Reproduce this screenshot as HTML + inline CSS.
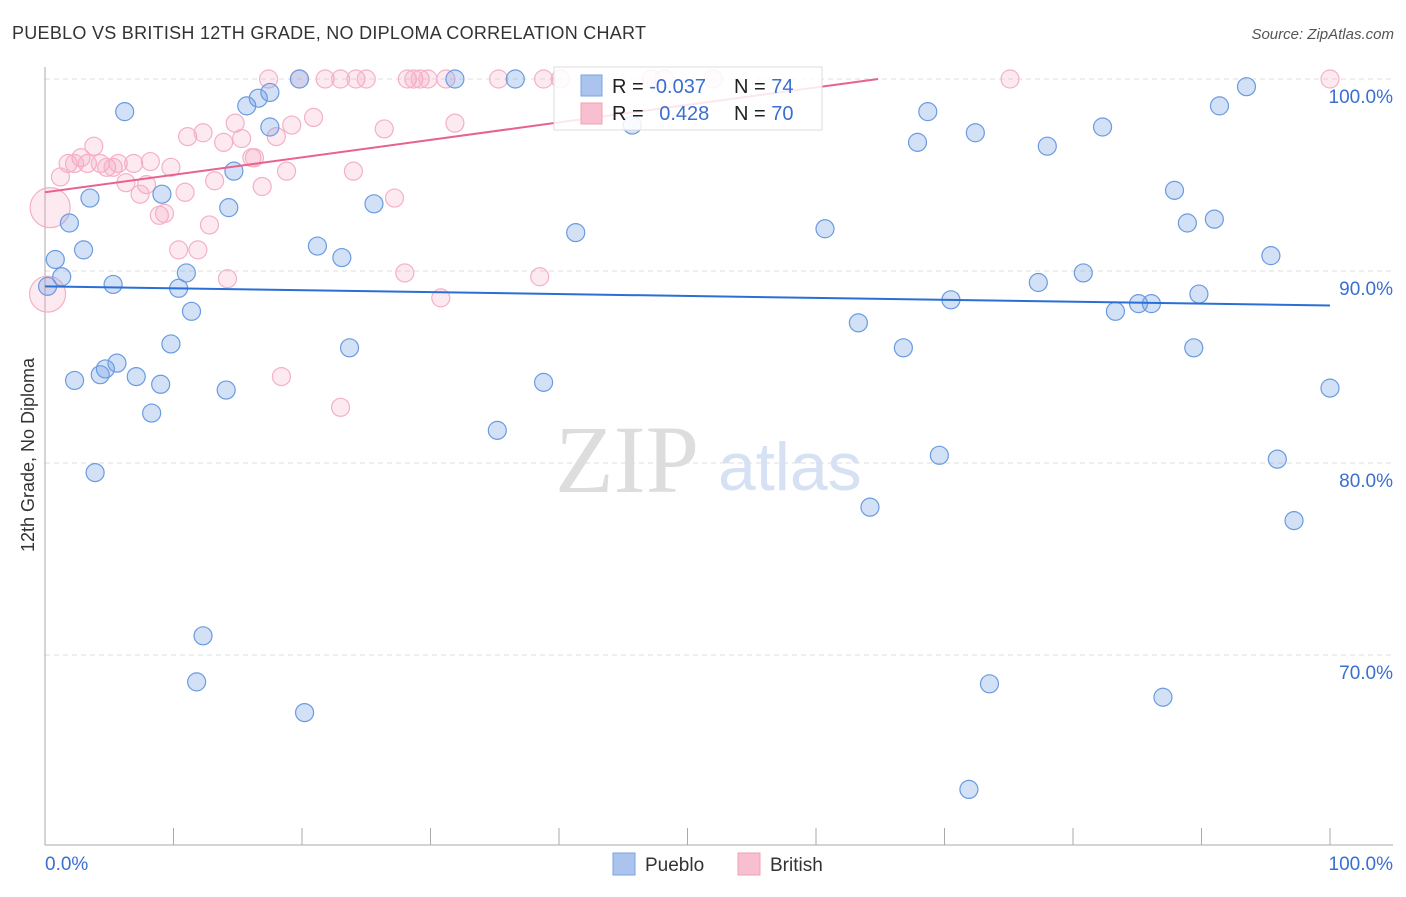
<!DOCTYPE html>
<html><head><meta charset="utf-8"><style>
body{margin:0;background:#fff;font-family:"Liberation Sans",sans-serif}
</style></head><body>
<svg id="c" width="1406" height="892" xmlns="http://www.w3.org/2000/svg">
<text x="12" y="39" font-size="18" fill="#333" textLength="634">PUEBLO VS BRITISH 12TH GRADE, NO DIPLOMA CORRELATION CHART</text>
<text x="1394" y="39" font-size="15" fill="#555" text-anchor="end" font-style="italic">Source: ZipAtlas.com</text>
<text x="0" y="0" transform="translate(34,455) rotate(-90)" font-size="18" fill="#333" text-anchor="middle">12th Grade, No Diploma</text>
<text x="555" y="492" font-size="96" fill="#ddd" font-family="Liberation Serif,serif">ZIP</text>
<text x="718" y="490" font-size="68" fill="#d6e2f4">atlas</text>
<g id="grid"></g><g id="axes"></g>
<defs><clipPath id="pc"><rect x="45" y="60" width="1350" height="785"/></clipPath></defs>
<g id="pts"></g><g id="lines" clip-path="url(#pc)"></g>
<g>
<rect x="554" y="67" width="268" height="63" fill="#fff" fill-opacity="0.85" stroke="#ddd"/>
<rect x="581" y="75" width="21" height="21" fill="#aac4ee" stroke="#7aa3e3"/>
<rect x="581" y="103" width="21" height="21" fill="#f8bfd0" stroke="#f0a0b8"/>
<text x="612" y="93" font-size="20" fill="#222">R = <tspan fill="#3a6fd0">-0.037</tspan></text>
<text x="734" y="93" font-size="20" fill="#222">N = <tspan fill="#3a6fd0">74</tspan></text>
<text x="612" y="120" font-size="20" fill="#222">R = <tspan fill="#3a6fd0" dx="10">0.428</tspan></text>
<text x="734" y="120" font-size="20" fill="#222">N = <tspan fill="#3a6fd0">70</tspan></text>
</g>
<g>
<rect x="613" y="853" width="22" height="22" fill="#aac4ee" stroke="#7aa3e3"/>
<text x="645" y="871" font-size="19" fill="#333">Pueblo</text>
<rect x="738" y="853" width="22" height="22" fill="#f8bfd0" stroke="#f0a0b8"/>
<text x="770" y="871" font-size="19" fill="#333">British</text>
</g>
</svg>
<script>
const yTicks=[100,90,80,70];
const yTickLabels=["100.0%","90.0%","80.0%","70.0%"];
const xTickLabels=["0.0%","100.0%"];
const puebloX=[6.2,19.8,31.9,36.6,15.7,16.6,17.5,17.5,14.7,14.3,3.5,1.9,9.1,3.0,0.8,1.3,11.0,10.4,5.3,0.2,11.4,9.8,2.3,4.3,4.7,5.6,7.1,9.0,14.1,8.3,3.9,21.2,23.1,25.6,23.7,35.2,38.8,41.3,45.7,60.7,67.9,68.7,72.4,78.0,82.3,87.9,88.9,91.0,91.4,93.5,95.4,77.3,80.8,70.5,83.3,85.1,86.1,89.8,89.4,63.3,66.8,100,69.6,95.9,64.2,97.2,12.3,11.8,20.2,73.5,87.0,71.9];
const puebloY=[98.3,100,100,100,98.6,99.0,99.3,97.5,95.2,93.3,93.8,92.5,94.0,91.1,90.6,89.7,89.9,89.1,89.3,89.2,87.9,86.2,84.3,84.6,84.9,85.2,84.5,84.1,83.8,82.6,79.5,91.3,90.7,93.5,86.0,81.7,84.2,92.0,97.6,92.2,96.7,98.3,97.2,96.5,97.5,94.2,92.5,92.7,98.6,99.6,90.8,89.4,89.9,88.5,87.9,88.3,88.3,88.8,86.0,87.3,86.0,83.9,80.4,80.2,77.7,77.0,71.0,68.6,67.0,68.5,67.8,63.0];
const britishX=[17.4,19.8,21.8,23.0,24.2,25.0,28.2,28.7,29.2,29.8,31.2,35.3,38.8,40.1,47.2,48.2,52.0,75.1,100,3.8,2.8,1.8,2.3,3.3,4.3,4.8,5.3,5.7,6.9,8.2,9.8,1.2,6.3,7.9,7.4,8.9,9.3,10.9,11.1,12.3,13.9,14.8,15.3,16.1,16.3,18.0,19.2,20.9,13.2,16.9,18.8,24.0,26.4,31.9,27.2,12.8,10.4,11.9,14.2,28.0,38.5,30.8,18.4,23.0,0.4,0.2];
const britishY=[100,100,100,100,100,100,100,100,100,100,100,100,100,100,100,100,100,100,100,96.5,95.9,95.6,95.6,95.6,95.6,95.4,95.4,95.6,95.6,95.7,95.4,94.9,94.6,94.5,94.0,92.9,93.0,94.1,97.0,97.2,96.7,97.7,96.9,95.9,95.9,97.0,97.6,98.0,94.7,94.4,95.2,95.2,97.4,97.7,93.8,92.4,91.1,91.1,89.6,89.9,89.7,88.6,84.5,82.9,93.3,88.8];
const britishBig=[64,65];
const puebloTrend=[89.2,88.2];
const britishTrend=[94.1,103.2];
const NS="http://www.w3.org/2000/svg";
const X=v=>45+v*12.85, Y=v=>79+(100-v)*19.2;
function mk(t,a,p){const e=document.createElementNS(NS,t);for(const k in a)e.setAttribute(k,a[k]);p.appendChild(e);return e;}
const grid=document.getElementById('grid'),axes=document.getElementById('axes'),pts=document.getElementById('pts'),lines=document.getElementById('lines');
yTicks.forEach((t,i)=>{
 const l=mk('line',{x1:45,x2:1393,y1:Y(t),y2:Y(t),stroke:'#ddd','stroke-dasharray':'5,4'},grid);
 
 
 const tx=mk('text',{x:1393,y:Y(t)+24,'font-size':19,fill:'#3a6fd0','text-anchor':'end'},grid);
 tx.textContent=yTickLabels[i];
 
 
});
mk('line',{x1:45,x2:45,y1:67,y2:845,stroke:'#aaa'},axes);
mk('line',{x1:45,x2:1393,y1:845,y2:845,stroke:'#aaa'},axes);
for(let i=0;i<=10;i++){const t=mk('line',{x1:X(i*10),x2:X(i*10),y1:828,y2:845,stroke:'#aaa'},axes);
 
 }
[[0,'start',45],[1,'end',1393]].forEach(([i,a,x])=>{const t=mk('text',{x:x,y:870,'font-size':19,fill:'#3a6fd0','text-anchor':a},axes);t.textContent=xTickLabels[i];
 
 });
britishX.forEach((x,i)=>{const r=britishBig.includes(i)?(i==64?20:18):9;
 const c=mk('circle',{cx:X(x),cy:Y(britishY[i]),r:r,fill:'rgba(244,160,188,0.22)',stroke:'#f4b0c6','stroke-width':1.2},pts);
 
 });
puebloX.forEach((x,i)=>{const c=mk('circle',{cx:X(x),cy:Y(puebloY[i]),r:9,fill:'rgba(110,155,230,0.3)',stroke:'#6a9be0','stroke-width':1.2},pts);
 
 });
const bl=mk('line',{x1:X(0),x2:X(100),y1:Y(puebloTrend[0]),y2:Y(puebloTrend[1]),stroke:'#2a6fd6','stroke-width':2},lines);


let bx=(100-britishTrend[0])/(britishTrend[1]-britishTrend[0])*100;
const pl=mk('line',{x1:X(0),x2:X(bx),y1:Y(britishTrend[0]),y2:Y(100),stroke:'#e8628e','stroke-width':2},lines);


</script>
</body></html>
